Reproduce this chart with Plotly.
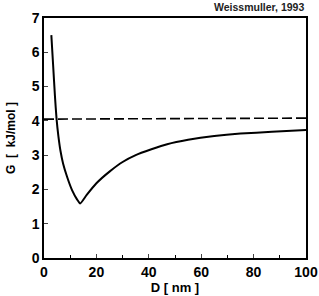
import plotly.graph_objects as go

# Grain size D [nm] and free energy G [kJ/mol]
D_curve = [2.8, 3.5, 4.2, 4.8, 5.5, 6.3, 7.3, 8.8, 10.7, 12.6, 13.8, 16.3, 20.0, 25.0, 30.0, 35.0, 41.0, 47.0, 55.0, 65.0, 75.0, 87.0, 100.0]
G_curve = [6.50, 5.60, 4.70, 4.05, 3.55, 3.12, 2.75, 2.37, 1.98, 1.71, 1.59, 1.84, 2.18, 2.52, 2.80, 3.00, 3.17, 3.32, 3.45, 3.56, 3.63, 3.68, 3.73]

D_ref = [0, 100]
G_ref = [4.05, 4.08]

x_ticks = [0, 20, 40, 60, 80, 100]
y_ticks = [0, 1, 2, 3, 4, 5, 6, 7]

fig = go.Figure()
fig.add_trace(go.Scatter(x=D_ref, y=G_ref, mode="lines",
                         line=dict(color="black", width=1.6, dash="10px,4px")))
fig.add_trace(go.Scatter(x=D_curve, y=G_curve, mode="lines",
                         line=dict(color="black", width=2, shape="spline", smoothing=0.5)))

font = "Liberation Sans, Arial, sans-serif"
fig.update_layout(
    width=319, height=296,
    margin=dict(l=44, r=13, t=18, b=38),
    paper_bgcolor="white", plot_bgcolor="white",
    showlegend=False,
    font=dict(family=font, color="black"),
    annotations=[dict(text="Weissmuller, 1993", x=1, y=1, xref="paper", yref="paper",
                      xanchor="right", yanchor="bottom", yshift=3, showarrow=False,
                      font=dict(size=10.5, family=font, weight="bold", color="#222"))],
)
fig.update_xaxes(range=[0, 100], tickvals=x_ticks, ticks="inside", ticklen=4,
                 minor=dict(dtick=10, ticks="inside", ticklen=3, tickcolor="black"),
                 showline=True, linecolor="black", linewidth=1.5, mirror=True,
                 showgrid=False, zeroline=False, automargin=False,
                 ticklabeloverflow="allow",
                 tickfont=dict(size=14, weight="bold"),
                 title=dict(text="D [ nm ]", font=dict(size=13, weight="bold"), standoff=4))
fig.update_yaxes(range=[0, 7], tickvals=y_ticks, ticks="inside", ticklen=4,
                 showline=True, linecolor="black", linewidth=1.5, mirror=True,
                 showgrid=False, zeroline=False, automargin=False,
                 ticklabeloverflow="allow",
                 tickfont=dict(size=14, weight="bold"),
                 title=dict(text="G  [  kJ/mol ]", font=dict(size=12, weight="bold"), standoff=13))

fig.write_html("out.html")
